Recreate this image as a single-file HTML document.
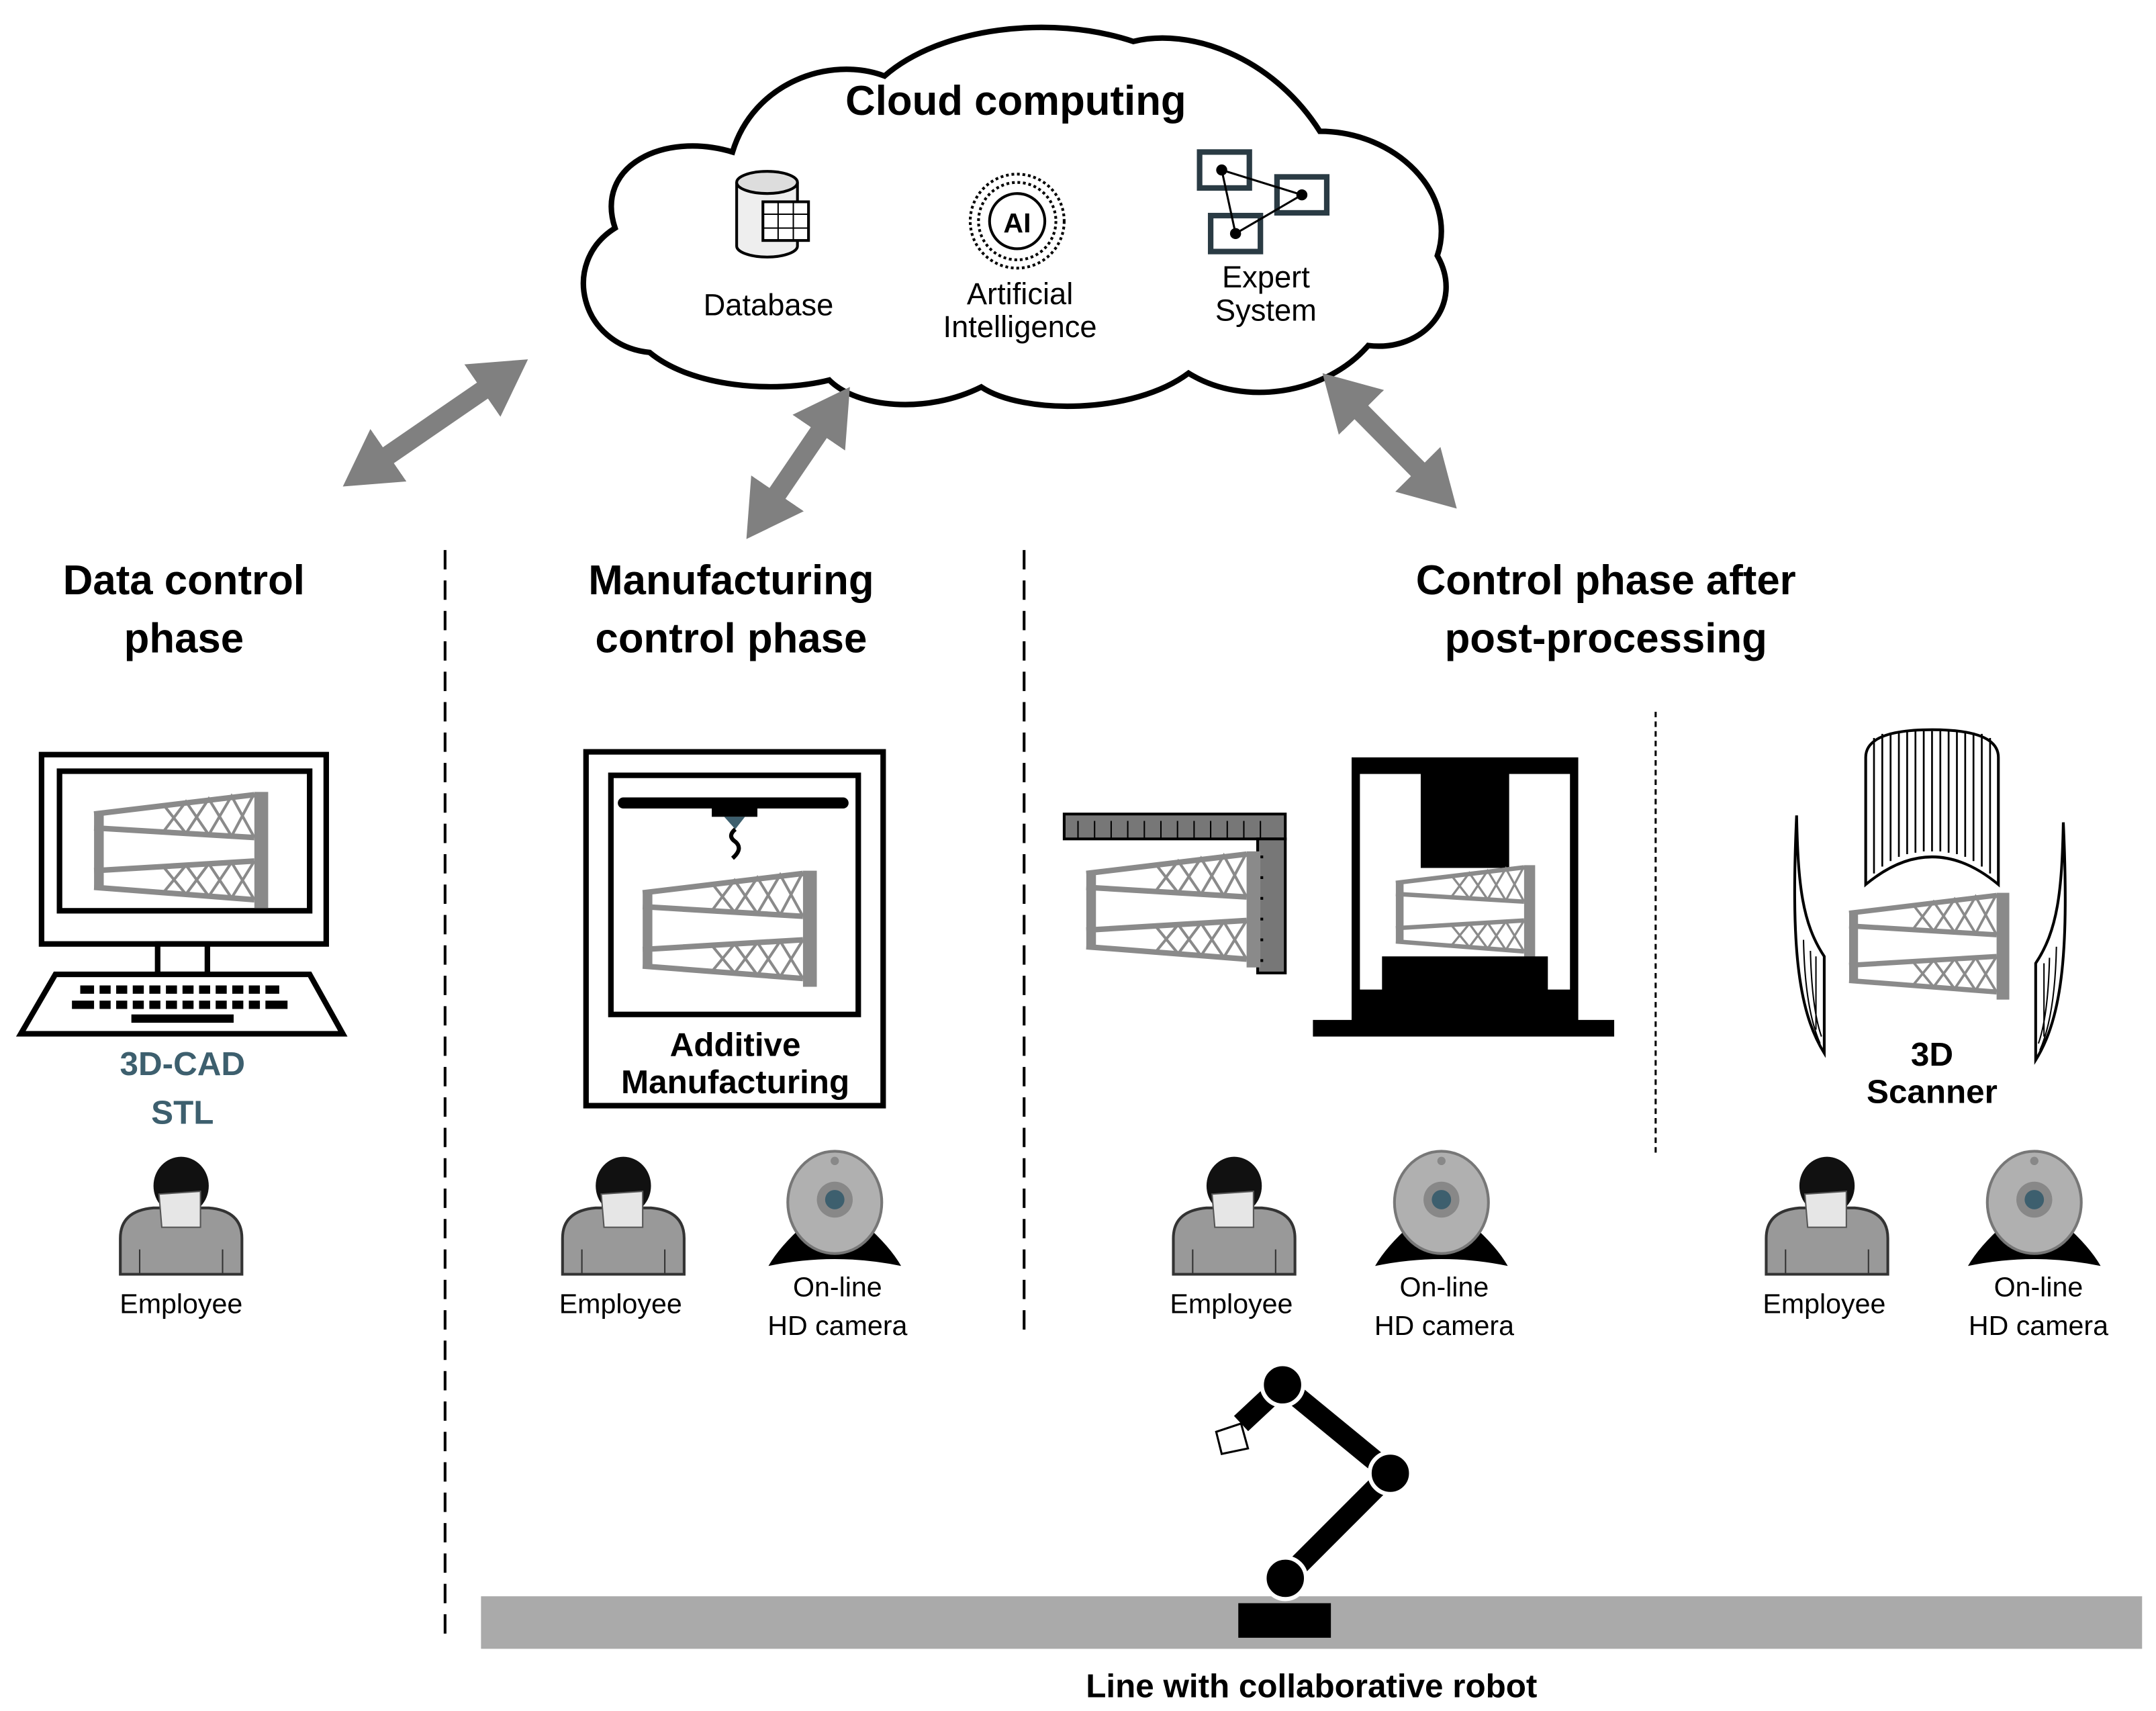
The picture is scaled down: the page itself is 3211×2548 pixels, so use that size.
<!DOCTYPE html>
<html><head><meta charset="utf-8"><style>html,body{margin:0;padding:0;background:#fff}svg{display:block}text{font-family:"Liberation Sans",sans-serif;text-anchor:middle}</style></head>
<body>
<svg width="3211" height="2548" viewBox="0 0 1560 1238" xmlns="http://www.w3.org/2000/svg">
<defs>
<marker id="ah" markerUnits="userSpaceOnUse" markerWidth="40" markerHeight="46" refX="20" refY="23" orient="auto-start-reverse"><path d="M0,0 L40,23 L0,46 Z" fill="#808080"/></marker>
<g id="truss" stroke="#8a8a8a" fill="none">
<rect x="0" y="15" width="7" height="55" fill="#8a8a8a" stroke="none"/>
<rect x="116" y="0" width="10" height="84" fill="#8a8a8a" stroke="none"/>
<path d="M0,16 L116,2 M0,26 L116,33 M0,57 L116,50 M0,69 L116,78" stroke-width="4"/>
<path d="M50,9 L66.5,30 L83,5 L99.5,32 L116,1 M50,29 L66.5,7 L83,31 L99.5,3 L116,33 M50,54 L66.5,74 L83,52 L99.5,76.7 L116,50 M50,73 L66.5,53 L83,75.5 L99.5,51 L116,78" stroke-width="2"/>
</g>
<g id="person">
<path d="M-44,84 L-44,58 Q-44,38 -20,36 L20,36 Q44,38 44,58 L44,84 Z" fill="#999" stroke="#333" stroke-width="2"/>
<path d="M-30,66 V84 M30,66 V84" stroke="#333"/>
<ellipse cx="0" cy="20" rx="20" ry="21" fill="#111"/>
<path d="M-16,26 L14,24 L14,50 L-14,50 Z" fill="#e6e6e6" stroke="#555"/>
</g>
<g id="cam">
<path d="M-22,50 Q-40,66 -48,80 Q0,70 48,80 Q40,66 22,50 Z" fill="#000"/>
<ellipse cx="0" cy="34" rx="34" ry="37" fill="#b0b0b0" stroke="#777" stroke-width="2"/>
<circle cx="0" cy="32" r="13" fill="#888"/>
<circle cx="0" cy="32" r="7" fill="#3d5f6e"/>
<circle cx="0" cy="4" r="3" fill="#888"/>
</g>
</defs>

<!-- Cloud -->
<path d="M470,255 C420,250 405,190 445,165 C430,120 480,95 530,110 C545,60 600,40 640,55 C680,20 760,10 820,30 C860,20 920,40 955,95 C1010,95 1055,140 1040,185 C1060,220 1030,255 990,250 C960,285 900,295 860,270 C820,300 740,300 710,280 C670,300 620,295 600,275 C560,285 500,280 470,255 Z" fill="#fff" stroke="#000" stroke-width="4"/>
<text x="735" y="83" font-size="30" font-weight="bold">Cloud computing</text>
<path d="M533,132 V178 A22,8 0 0 0 577,178 V132" fill="#eee" stroke="#000" stroke-width="2"/>
<ellipse cx="555" cy="132" rx="22" ry="8" fill="#ddd" stroke="#000" stroke-width="2"/>
<rect x="552" y="146" width="33" height="28" fill="#fff" stroke="#000" stroke-width="2"/>
<path d="M552,155 H585 M552,165 H585 M563,146 V174 M574,146 V174" stroke="#000"/>
<text x="556" y="228" font-size="22">Database</text>
<circle cx="736" cy="160" r="34" fill="none" stroke="#000" stroke-width="2" stroke-dasharray="2 2"/>
<circle cx="736" cy="160" r="28" fill="none" stroke="#000" stroke-width="2" stroke-dasharray="2 2"/>
<circle cx="736" cy="160" r="20" fill="#fff" stroke="#000" stroke-width="2"/>
<text x="736" y="168" font-size="20" font-weight="bold">AI</text>
<text x="738" y="220" font-size="22">Artificial</text>
<text x="738" y="244" font-size="22">Intelligence</text>
<g fill="#fff" stroke="#2a3b44" stroke-width="4">
<rect x="868" y="110" width="36" height="26"/><rect x="924" y="128" width="36" height="26"/><rect x="876" y="156" width="36" height="26"/>
</g>
<path d="M884,123 L942,141 L894,169 Z" fill="none" stroke="#000" stroke-width="1.5"/>
<circle cx="884" cy="123" r="4"/><circle cx="942" cy="141" r="4"/><circle cx="894" cy="169" r="4"/>
<text x="916" y="208" font-size="22">Expert</text>
<text x="916" y="232" font-size="22">System</text>

<g stroke="#808080" stroke-width="14" marker-start="url(#ah)" marker-end="url(#ah)">
<line x1="264.5" y1="340.7" x2="365.5" y2="271.3"/>
<line x1="551.3" y1="373.5" x2="603.7" y2="296.5"/>
<line x1="971" y1="284.2" x2="1040" y2="353.8"/>
</g>

<line x1="322" y1="398" x2="322" y2="1187" stroke="#000" stroke-width="2" stroke-dasharray="14 8"/>
<line x1="741" y1="398" x2="741" y2="966" stroke="#000" stroke-width="2" stroke-dasharray="14 8"/>
<line x1="1198" y1="515" x2="1198" y2="836" stroke="#000" stroke-width="1.5" stroke-dasharray="4 3"/>

<g font-size="30" font-weight="bold">
<text x="133" y="430">Data control</text><text x="133" y="472">phase</text>
<text x="529" y="430">Manufacturing</text><text x="529" y="472">control phase</text>
<text x="1162" y="430">Control phase after</text><text x="1162" y="472">post-processing</text>
</g>

<!-- monitor -->
<rect x="30" y="546" width="206" height="137" fill="#fff" stroke="#000" stroke-width="4"/>
<rect x="43" y="558" width="181" height="101" fill="#fff" stroke="#000" stroke-width="4"/>
<use href="#truss" transform="translate(68 573)"/>
<rect x="114" y="683" width="36" height="22" fill="#fff" stroke="#000" stroke-width="4"/>
<path d="M40,705 L224,705 L248,748 L15,748 Z" fill="#fff" stroke="#000" stroke-width="4"/>
<g fill="#000">
<path d="M58,713 h144 v6 h-144z M52,724 h156 v6 h-156z"/>
<rect x="95" y="734" width="74" height="6"/>
</g>
<g stroke="#fff" stroke-width="4"><path d="M70,710 V732 M82,710 V732 M94,710 V732 M106,710 V732 M118,710 V732 M130,710 V732 M142,710 V732 M154,710 V732 M166,710 V732 M178,710 V732 M190,710 V732"/></g>
<text x="132" y="778" font-size="24" font-weight="bold" fill="#3d5f6e">3D-CAD</text>
<text x="132" y="813" font-size="24" font-weight="bold" fill="#3d5f6e">STL</text>

<!-- AM -->
<rect x="424" y="544" width="215" height="256" fill="#fff" stroke="#000" stroke-width="4"/>
<rect x="442" y="561" width="179" height="173" fill="#fff" stroke="#000" stroke-width="4"/>
<rect x="447" y="577" width="167" height="8" rx="4" fill="#000"/>
<rect x="515" y="584" width="33" height="7" fill="#000"/>
<path d="M524,591 L539,591 L532,600 Z" fill="#3d5f6e"/>
<path d="M532,600 q-6,5 0,9 q6,5 -2,12" fill="none" stroke="#000" stroke-width="3"/>
<use href="#truss" transform="translate(465 630)"/>
<text x="532" y="764" font-size="24" font-weight="bold">Additive</text>
<text x="532" y="791" font-size="24" font-weight="bold">Manufacturing</text>

<!-- ruler -->
<rect x="770" y="589" width="160" height="18" fill="#777" stroke="#000" stroke-width="2"/>
<path d="M780,594 V607 M792,594 V607 M804,594 V607 M816,594 V607 M828,594 V607 M840,594 V607 M852,594 V607 M864,594 V607 M876,594 V607 M888,594 V607 M900,594 V607 M912,594 V607" stroke="#000"/>
<rect x="910" y="607" width="20" height="97" fill="#777" stroke="#000" stroke-width="2"/>
<path d="M910,620 h4 M910,635 h4 M910,650 h4 M910,665 h4 M910,680 h4 M910,695 h4" stroke="#000" stroke-width="2"/>
<use href="#truss" transform="translate(786 616)"/>

<!-- press -->
<path d="M978,548 H1142 V738 H1168 V750 H950 V738 H978 Z" fill="#000"/>
<rect x="984" y="560" width="152" height="156" fill="#fff"/>
<rect x="1028" y="555" width="64" height="73" fill="#000"/>
<use href="#truss" transform="translate(1010 626) scale(0.8)"/>
<rect x="1000" y="692" width="120" height="48" fill="#000"/>

<!-- scanner -->
<path d="M1350,548 Q1350,528 1398,528 Q1446,528 1446,548 V640 Q1398,600 1350,640 Z" fill="#fff" stroke="#000" stroke-width="2"/>
<g stroke="#000" stroke-width="1.3"><path d="M1356,534 V632 M1362,531 V627 M1368,530 V623 M1374,529 V620 M1380,529 V618 M1386,529 V617 M1392,529 V616 M1398,529 V616 M1404,529 V616 M1410,529 V617 M1416,529 V618 M1422,529 V620 M1428,530 V623 M1434,531 V627 M1440,534 V632"/></g>
<path d="M1300,590 C1296,680 1300,730 1320,762 V692 C1304,668 1301,640 1300,590 Z" fill="#fff" stroke="#000" stroke-width="2"/>
<path d="M1305,680 Q1306,730 1317,755 M1310,688 Q1311,730 1318,750 M1314,692 V745" fill="none" stroke="#000"/>
<path d="M1493,595 C1497,685 1493,735 1473,767 V697 C1489,673 1492,645 1493,595 Z" fill="#fff" stroke="#000" stroke-width="2"/>
<path d="M1488,685 Q1487,735 1476,760 M1483,693 Q1482,735 1475,755 M1479,697 V750" fill="none" stroke="#000"/>
<use href="#truss" transform="translate(1338 646) scale(0.92)"/>
<text x="1398" y="771" font-size="24" font-weight="bold">3D</text>
<text x="1398" y="798" font-size="24" font-weight="bold">Scanner</text>

<use href="#person" x="131" y="838"/>
<use href="#person" x="451" y="838"/>
<use href="#cam" x="604" y="836"/>
<use href="#person" x="893" y="838"/>
<use href="#cam" x="1043" y="836"/>
<use href="#person" x="1322" y="838"/>
<use href="#cam" x="1472" y="836"/>
<g font-size="20">
<text x="131" y="950">Employee</text>
<text x="449" y="950">Employee</text>
<text x="606" y="938">On-line</text><text x="606" y="966">HD camera</text>
<text x="891" y="950">Employee</text>
<text x="1045" y="938">On-line</text><text x="1045" y="966">HD camera</text>
<text x="1320" y="950">Employee</text>
<text x="1475" y="938">On-line</text><text x="1475" y="966">HD camera</text>
</g>

<rect x="348" y="1155" width="1202" height="38" fill="#aaa"/>
<rect x="896" y="1160" width="67" height="25" fill="#000"/>
<g stroke="#000" stroke-width="15">
<line x1="930" y1="1142" x2="1006" y2="1066"/>
<line x1="1006" y1="1066" x2="928" y2="1002"/>
<line x1="928" y1="1002" x2="898" y2="1030"/>
</g>
<circle cx="930" cy="1142" r="15" fill="#000" stroke="#fff" stroke-width="3"/>
<circle cx="1006" cy="1066" r="15" fill="#000" stroke="#fff" stroke-width="3"/>
<circle cx="928" cy="1002" r="15" fill="#000" stroke="#fff" stroke-width="3"/>
<path d="M880,1036 L898,1030 L903,1048 L884,1052 Z" fill="#fff" stroke="#000" stroke-width="1.5"/>
<text x="949" y="1228" font-size="24" font-weight="bold">Line with collaborative robot</text>
</svg>
</body></html>
